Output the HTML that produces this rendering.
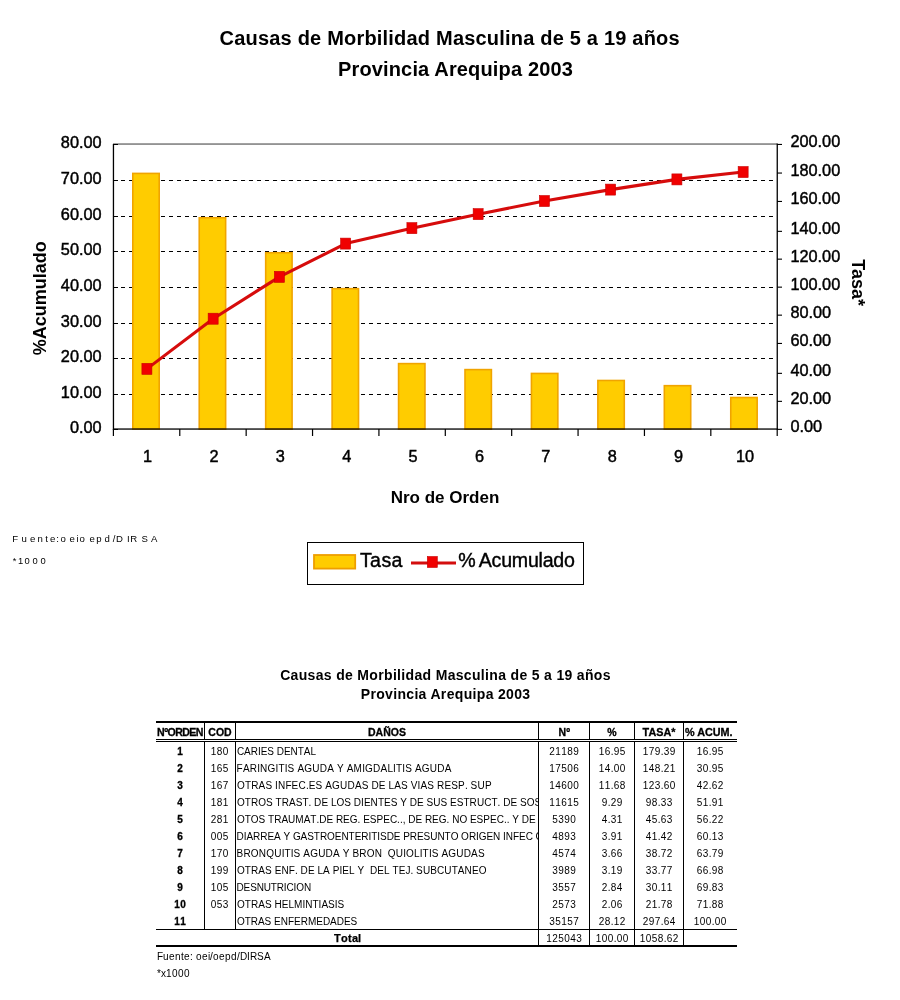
<!DOCTYPE html>
<html><head><meta charset="utf-8"><title>Causas de Morbilidad Masculina de 5 a 19 años</title>
<style>html,body{margin:0;padding:0;background:#fff;width:900px;height:1000px;overflow:hidden}</style>
</head><body>
<svg width="900" height="1000" viewBox="0 0 900 1000" style="position:absolute;left:0;top:0;will-change:transform" font-family='"Liberation Sans", sans-serif'>
<rect x="0" y="0" width="900" height="1000" fill="#fff"/>
<text x="449.7" y="44.6" font-size="20" font-weight="bold" text-anchor="middle" letter-spacing="0.2">Causas de Morbilidad Masculina de 5 a 19 años</text>
<text x="455.5" y="76.2" font-size="20" font-weight="bold" text-anchor="middle" letter-spacing="0.15">Provincia Arequipa 2003</text>
<line x1="113" y1="394.5" x2="777" y2="394.5" stroke="#000" stroke-width="1" stroke-dasharray="4 4" shape-rendering="crispEdges"/>
<line x1="113" y1="358.5" x2="777" y2="358.5" stroke="#000" stroke-width="1" stroke-dasharray="4 4" shape-rendering="crispEdges"/>
<line x1="113" y1="323.5" x2="777" y2="323.5" stroke="#000" stroke-width="1" stroke-dasharray="4 4" shape-rendering="crispEdges"/>
<line x1="113" y1="287.5" x2="777" y2="287.5" stroke="#000" stroke-width="1" stroke-dasharray="4 4" shape-rendering="crispEdges"/>
<line x1="113" y1="251.5" x2="777" y2="251.5" stroke="#000" stroke-width="1" stroke-dasharray="4 4" shape-rendering="crispEdges"/>
<line x1="113" y1="216.5" x2="777" y2="216.5" stroke="#000" stroke-width="1" stroke-dasharray="4 4" shape-rendering="crispEdges"/>
<line x1="113" y1="180.5" x2="777" y2="180.5" stroke="#000" stroke-width="1" stroke-dasharray="4 4" shape-rendering="crispEdges"/>
<rect x="113" y="143.4" width="664" height="1.3" fill="#666"/>
<rect x="132.80" y="173.41" width="26.4" height="255.59" fill="#FFCC00" stroke="#F0A400" stroke-width="1.6"/>
<rect x="199.24" y="217.75" width="26.4" height="211.25" fill="#FFCC00" stroke="#F0A400" stroke-width="1.6"/>
<rect x="265.68" y="252.74" width="26.4" height="176.26" fill="#FFCC00" stroke="#F0A400" stroke-width="1.6"/>
<rect x="332.12" y="288.67" width="26.4" height="140.33" fill="#FFCC00" stroke="#F0A400" stroke-width="1.6"/>
<rect x="398.56" y="363.61" width="26.4" height="65.39" fill="#FFCC00" stroke="#F0A400" stroke-width="1.6"/>
<rect x="465.00" y="369.60" width="26.4" height="59.40" fill="#FFCC00" stroke="#F0A400" stroke-width="1.6"/>
<rect x="531.44" y="373.44" width="26.4" height="55.56" fill="#FFCC00" stroke="#F0A400" stroke-width="1.6"/>
<rect x="597.88" y="380.48" width="26.4" height="48.52" fill="#FFCC00" stroke="#F0A400" stroke-width="1.6"/>
<rect x="664.32" y="385.68" width="26.4" height="43.32" fill="#FFCC00" stroke="#F0A400" stroke-width="1.6"/>
<rect x="730.76" y="397.53" width="26.4" height="31.47" fill="#FFCC00" stroke="#F0A400" stroke-width="1.6"/>
<rect x="112.8" y="144" width="1.3" height="286" fill="#000"/>
<rect x="113" y="428.4" width="665" height="1.3" fill="#000"/>
<rect x="776.6" y="143.5" width="1.3" height="286" fill="#000"/>
<rect x="113" y="429" width="5" height="1" fill="#000"/>
<rect x="113" y="394" width="5" height="1" fill="#000"/>
<rect x="113" y="358" width="5" height="1" fill="#000"/>
<rect x="113" y="323" width="5" height="1" fill="#000"/>
<rect x="113" y="287" width="5" height="1" fill="#000"/>
<rect x="113" y="251" width="5" height="1" fill="#000"/>
<rect x="113" y="216" width="5" height="1" fill="#000"/>
<rect x="113" y="180" width="5" height="1" fill="#000"/>
<rect x="113" y="144" width="5" height="1" fill="#000"/>
<rect x="777" y="428.80" width="5" height="1.1" fill="#000"/>
<rect x="777" y="400.80" width="5" height="1.1" fill="#000"/>
<rect x="777" y="372.80" width="5" height="1.1" fill="#000"/>
<rect x="777" y="342.90" width="5" height="1.1" fill="#000"/>
<rect x="777" y="314.60" width="5" height="1.1" fill="#000"/>
<rect x="777" y="286.60" width="5" height="1.1" fill="#000"/>
<rect x="777" y="258.60" width="5" height="1.1" fill="#000"/>
<rect x="777" y="230.80" width="5" height="1.1" fill="#000"/>
<rect x="777" y="200.90" width="5" height="1.1" fill="#000"/>
<rect x="777" y="172.50" width="5" height="1.1" fill="#000"/>
<rect x="777" y="143.90" width="5" height="1.1" fill="#000"/>
<rect x="112.80" y="429" width="1.2" height="7" fill="#000"/>
<rect x="179.18" y="429" width="1.2" height="7" fill="#000"/>
<rect x="245.56" y="429" width="1.2" height="7" fill="#000"/>
<rect x="311.94" y="429" width="1.2" height="7" fill="#000"/>
<rect x="378.32" y="429" width="1.2" height="7" fill="#000"/>
<rect x="444.70" y="429" width="1.2" height="7" fill="#000"/>
<rect x="511.08" y="429" width="1.2" height="7" fill="#000"/>
<rect x="577.46" y="429" width="1.2" height="7" fill="#000"/>
<rect x="643.84" y="429" width="1.2" height="7" fill="#000"/>
<rect x="710.22" y="429" width="1.2" height="7" fill="#000"/>
<rect x="776.60" y="429" width="1.2" height="7" fill="#000"/>
<polyline points="146.90,368.87 213.15,318.71 279.40,276.89 345.65,243.61 411.90,228.16 478.15,214.15 544.40,201.04 610.65,189.61 676.90,179.40 743.15,172.05" fill="none" stroke="#D60C0C" stroke-width="3.1" stroke-linejoin="round"/>
<rect x="141.90" y="363.37" width="10" height="11" fill="#F00000" stroke="#C80000" stroke-width="0.6"/>
<rect x="208.15" y="313.21" width="10" height="11" fill="#F00000" stroke="#C80000" stroke-width="0.6"/>
<rect x="274.40" y="271.39" width="10" height="11" fill="#F00000" stroke="#C80000" stroke-width="0.6"/>
<rect x="340.65" y="238.11" width="10" height="11" fill="#F00000" stroke="#C80000" stroke-width="0.6"/>
<rect x="406.90" y="222.66" width="10" height="11" fill="#F00000" stroke="#C80000" stroke-width="0.6"/>
<rect x="473.15" y="208.65" width="10" height="11" fill="#F00000" stroke="#C80000" stroke-width="0.6"/>
<rect x="539.40" y="195.54" width="10" height="11" fill="#F00000" stroke="#C80000" stroke-width="0.6"/>
<rect x="605.65" y="184.11" width="10" height="11" fill="#F00000" stroke="#C80000" stroke-width="0.6"/>
<rect x="671.90" y="173.90" width="10" height="11" fill="#F00000" stroke="#C80000" stroke-width="0.6"/>
<rect x="738.15" y="166.55" width="10" height="11" fill="#F00000" stroke="#C80000" stroke-width="0.6"/>
<text x="101.6" y="432.7" font-size="16.3" stroke="#000" stroke-width="0.45" text-anchor="end">0.00</text>
<text x="101.6" y="397.7" font-size="16.3" stroke="#000" stroke-width="0.45" text-anchor="end">10.00</text>
<text x="101.6" y="361.7" font-size="16.3" stroke="#000" stroke-width="0.45" text-anchor="end">20.00</text>
<text x="101.6" y="326.7" font-size="16.3" stroke="#000" stroke-width="0.45" text-anchor="end">30.00</text>
<text x="101.6" y="290.7" font-size="16.3" stroke="#000" stroke-width="0.45" text-anchor="end">40.00</text>
<text x="101.6" y="254.7" font-size="16.3" stroke="#000" stroke-width="0.45" text-anchor="end">50.00</text>
<text x="101.6" y="219.7" font-size="16.3" stroke="#000" stroke-width="0.45" text-anchor="end">60.00</text>
<text x="101.6" y="183.7" font-size="16.3" stroke="#000" stroke-width="0.45" text-anchor="end">70.00</text>
<text x="101.6" y="147.7" font-size="16.3" stroke="#000" stroke-width="0.45" text-anchor="end">80.00</text>
<text x="790.4" y="432.3" font-size="16.3" stroke="#000" stroke-width="0.45">0.00</text>
<text x="790.4" y="404.3" font-size="16.3" stroke="#000" stroke-width="0.45">20.00</text>
<text x="790.4" y="376.3" font-size="16.3" stroke="#000" stroke-width="0.45">40.00</text>
<text x="790.4" y="346.4" font-size="16.3" stroke="#000" stroke-width="0.45">60.00</text>
<text x="790.4" y="318.1" font-size="16.3" stroke="#000" stroke-width="0.45">80.00</text>
<text x="790.4" y="290.1" font-size="16.3" stroke="#000" stroke-width="0.45">100.00</text>
<text x="790.4" y="262.1" font-size="16.3" stroke="#000" stroke-width="0.45">120.00</text>
<text x="790.4" y="234.3" font-size="16.3" stroke="#000" stroke-width="0.45">140.00</text>
<text x="790.4" y="204.4" font-size="16.3" stroke="#000" stroke-width="0.45">160.00</text>
<text x="790.4" y="176.0" font-size="16.3" stroke="#000" stroke-width="0.45">180.00</text>
<text x="790.4" y="147.4" font-size="16.3" stroke="#000" stroke-width="0.45">200.00</text>
<text x="147.6" y="462.4" font-size="16.3" stroke="#000" stroke-width="0.45" text-anchor="middle">1</text>
<text x="214.0" y="462.4" font-size="16.3" stroke="#000" stroke-width="0.45" text-anchor="middle">2</text>
<text x="280.4" y="462.4" font-size="16.3" stroke="#000" stroke-width="0.45" text-anchor="middle">3</text>
<text x="346.7" y="462.4" font-size="16.3" stroke="#000" stroke-width="0.45" text-anchor="middle">4</text>
<text x="413.1" y="462.4" font-size="16.3" stroke="#000" stroke-width="0.45" text-anchor="middle">5</text>
<text x="479.5" y="462.4" font-size="16.3" stroke="#000" stroke-width="0.45" text-anchor="middle">6</text>
<text x="545.9" y="462.4" font-size="16.3" stroke="#000" stroke-width="0.45" text-anchor="middle">7</text>
<text x="612.3" y="462.4" font-size="16.3" stroke="#000" stroke-width="0.45" text-anchor="middle">8</text>
<text x="678.6" y="462.4" font-size="16.3" stroke="#000" stroke-width="0.45" text-anchor="middle">9</text>
<text x="745.0" y="462.4" font-size="16.3" stroke="#000" stroke-width="0.45" text-anchor="middle">10</text>
<text transform="translate(45.6,298.3) rotate(-90)" font-size="18" font-weight="bold" text-anchor="middle">%Acumulado</text>
<text transform="translate(852.2,282.6) rotate(90)" font-size="18" font-weight="bold" text-anchor="middle">Tasa*</text>
<text x="445" y="503" font-size="17" font-weight="bold" text-anchor="middle">Nro de Orden</text>
<text x="12.2 21.5 29.9 37.4 45.2 49.9 56.3 60.4 69.5 76.6 79.6 86.0 89.6 96.2 104.6 112.8 116.1 126.9 130.2 141.5 151.0" y="542" font-size="9.6" xml:space="preserve">Fuente:oeio epd/DIRSA</text>
<text x="12.8 18.1 24.5 32.6 40.6" y="563.6" font-size="9.4">*1000</text>
<rect x="307.5" y="542.5" width="276" height="42" fill="#fff" stroke="#000" stroke-width="1"/>
<rect x="314" y="555" width="41.2" height="13.6" fill="#FFCC00" stroke="#EE9E00" stroke-width="1.8"/>
<text x="359.9" y="567" font-size="19.6" stroke="#000" stroke-width="0.4" letter-spacing="0.4">Tasa</text>
<line x1="411" y1="563" x2="456" y2="563" stroke="#D30E0E" stroke-width="3"/>
<rect x="427.3" y="556.5" width="10" height="11" fill="#F00000" stroke="#C80000" stroke-width="0.6"/>
<text x="458.3" y="566.8" font-size="19.6" stroke="#000" stroke-width="0.4">%</text>
<text x="478.8" y="566.8" font-size="19.6" stroke="#000" stroke-width="0.4" letter-spacing="-0.25">Acumulado</text>
<text x="445.5" y="679.8" font-size="14" font-weight="bold" text-anchor="middle" letter-spacing="0.33">Causas de Morbilidad Masculina de 5 a 19 años</text>
<text x="445.6" y="699.2" font-size="14" font-weight="bold" text-anchor="middle" letter-spacing="0.33">Provincia Arequipa 2003</text>
<rect x="156" y="721" width="581" height="2" fill="#000"/>
<rect x="156" y="739" width="581" height="1" fill="#000"/>
<rect x="156" y="741" width="581" height="1" fill="#000"/>
<rect x="156" y="929" width="581" height="1" fill="#000"/>
<rect x="156" y="945" width="581" height="2" fill="#000"/>
<rect x="204" y="723" width="1" height="16" fill="#000"/>
<rect x="204" y="742" width="1" height="187" fill="#000"/>
<rect x="235" y="723" width="1" height="16" fill="#000"/>
<rect x="235" y="742" width="1" height="187" fill="#000"/>
<rect x="538" y="723" width="1" height="16" fill="#000"/>
<rect x="538" y="742" width="1" height="187" fill="#000"/>
<rect x="589" y="723" width="1" height="16" fill="#000"/>
<rect x="589" y="742" width="1" height="187" fill="#000"/>
<rect x="634" y="723" width="1" height="16" fill="#000"/>
<rect x="634" y="742" width="1" height="187" fill="#000"/>
<rect x="683" y="723" width="1" height="16" fill="#000"/>
<rect x="683" y="742" width="1" height="187" fill="#000"/>
<rect x="538" y="930" width="1" height="15" fill="#000"/>
<rect x="589" y="930" width="1" height="15" fill="#000"/>
<rect x="634" y="930" width="1" height="15" fill="#000"/>
<rect x="683" y="930" width="1" height="15" fill="#000"/>
<text x="180" y="735.7" font-size="10.6" font-weight="bold" stroke="#000" stroke-width="0.3" text-anchor="middle" letter-spacing="-0.55">NºORDEN</text>
<text x="220" y="735.7" font-size="10.5" font-weight="bold" stroke="#000" stroke-width="0.3" text-anchor="middle">COD</text>
<text x="387" y="735.7" font-size="10.5" font-weight="bold" stroke="#000" stroke-width="0.3" text-anchor="middle">DAÑOS</text>
<text x="564.3" y="735.7" font-size="10.5" font-weight="bold" stroke="#000" stroke-width="0.3" text-anchor="middle">Nº</text>
<text x="612" y="735.7" font-size="10.5" font-weight="bold" stroke="#000" stroke-width="0.3" text-anchor="middle">%</text>
<text x="659" y="735.7" font-size="10.8" font-weight="bold" stroke="#000" stroke-width="0.3" text-anchor="middle">TASA*</text>
<text x="685" y="735.7" font-size="10.8" font-weight="bold" stroke="#000" stroke-width="0.3">% ACUM.</text>
<defs><clipPath id="dc"><rect x="236" y="742" width="303" height="187"/></clipPath></defs>
<text x="177.2" y="755.0" font-size="10" font-weight="bold" xml:space="preserve" stroke="#000" stroke-width="0.3">1</text>
<text x="210.7 216.7 222.7" y="755.0" font-size="10" xml:space="preserve" >180</text>
<text x="236.9 244.1 250.7 257.9 260.7 267.3 274.0 276.7 283.9 290.6 297.7 303.8 310.5" y="755.0" font-size="10" xml:space="preserve" clip-path="url(#dc)">CARIES DENTAL</text>
<text x="549.3 555.3 561.3 567.3 573.3" y="755.0" font-size="10" xml:space="preserve" >21189</text>
<text x="598.7 604.7 610.7 613.7 619.7" y="755.0" font-size="10" xml:space="preserve" >16.95</text>
<text x="642.7 648.7 654.7 660.7 663.7 669.7" y="755.0" font-size="10" xml:space="preserve" >179.39</text>
<text x="696.7 702.7 708.7 711.7 717.7" y="755.0" font-size="10" xml:space="preserve" >16.95</text>
<text x="177.2" y="772.0" font-size="10" font-weight="bold" xml:space="preserve" stroke="#000" stroke-width="0.3">2</text>
<text x="210.7 216.7 222.7" y="772.0" font-size="10" xml:space="preserve" >165</text>
<text x="236.6 242.9 249.8 257.2 260.1 267.5 275.6 278.4 284.7 287.6 294.5 297.4 304.2 312.3 319.7 327.2 334.1 336.9 343.8 346.7 353.6 362.2 365.0 373.1 380.5 387.4 393.1 396.0 402.3 405.2 412.1 414.9 421.8 429.8 437.3 444.7" y="772.0" font-size="10" xml:space="preserve" clip-path="url(#dc)">FARINGITIS AGUDA Y AMIGDALITIS AGUDA</text>
<text x="549.3 555.3 561.3 567.3 573.3" y="772.0" font-size="10" xml:space="preserve" >17506</text>
<text x="598.7 604.7 610.7 613.7 619.7" y="772.0" font-size="10" xml:space="preserve" >14.00</text>
<text x="642.7 648.7 654.7 660.7 663.7 669.7" y="772.0" font-size="10" xml:space="preserve" >148.21</text>
<text x="696.7 702.7 708.7 711.7 717.7" y="772.0" font-size="10" xml:space="preserve" >30.95</text>
<text x="177.2" y="789.0" font-size="10" font-weight="bold" xml:space="preserve" stroke="#000" stroke-width="0.3">3</text>
<text x="210.7 216.7 222.7" y="789.0" font-size="10" xml:space="preserve" >167</text>
<text x="236.9 244.9 251.2 258.6 265.4 272.3 275.1 278.0 285.4 291.6 298.5 305.9 308.7 315.6 322.4 325.3 332.1 340.1 347.5 354.9 361.7 368.6 371.4 378.8 385.7 388.5 394.2 401.1 407.9 410.8 417.6 420.4 427.3 434.1 437.0 444.4 451.2 458.1 464.9 467.8 470.6 477.5 484.9" y="789.0" font-size="10" xml:space="preserve" clip-path="url(#dc)">OTRAS INFEC.ES AGUDAS DE LAS VIAS RESP. SUP</text>
<text x="549.3 555.3 561.3 567.3 573.3" y="789.0" font-size="10" xml:space="preserve" >14600</text>
<text x="598.7 604.7 610.7 613.7 619.7" y="789.0" font-size="10" xml:space="preserve" >11.68</text>
<text x="642.7 648.7 654.7 660.7 663.7 669.7" y="789.0" font-size="10" xml:space="preserve" >123.60</text>
<text x="696.7 702.7 708.7 711.7 717.7" y="789.0" font-size="10" xml:space="preserve" >42.62</text>
<text x="177.2" y="806.0" font-size="10" font-weight="bold" xml:space="preserve" stroke="#000" stroke-width="0.3">4</text>
<text x="210.7 216.7 222.7" y="806.0" font-size="10" xml:space="preserve" >181</text>
<text x="236.9 244.8 250.9 258.2 266.0 272.7 275.5 281.7 288.9 295.7 302.4 308.5 311.3 314.1 321.4 328.1 330.9 336.5 344.3 351.0 353.8 361.1 363.9 370.6 377.9 384.0 390.7 397.5 400.3 407.0 409.8 417.0 423.8 426.6 433.3 440.5 447.3 450.0 456.8 463.5 469.6 476.9 484.2 491.4 497.6 500.4 503.2 510.4 517.2 520.0 526.7 534.5 541.2 547.4 554.1" y="806.0" font-size="10" xml:space="preserve" clip-path="url(#dc)">OTROS TRAST. DE LOS DIENTES Y DE SUS ESTRUCT. DE SOSTEN</text>
<text x="549.3 555.3 561.3 567.3 573.3" y="806.0" font-size="10" xml:space="preserve" >11615</text>
<text x="601.7 607.7 610.7 616.7" y="806.0" font-size="10" xml:space="preserve" >9.29</text>
<text x="645.7 651.7 657.7 660.7 666.7" y="806.0" font-size="10" xml:space="preserve" >98.33</text>
<text x="696.7 702.7 708.7 711.7 717.7" y="806.0" font-size="10" xml:space="preserve" >51.91</text>
<text x="177.2" y="823.0" font-size="10" font-weight="bold" xml:space="preserve" stroke="#000" stroke-width="0.3">5</text>
<text x="210.7 216.7 222.7" y="823.0" font-size="10" xml:space="preserve" >281</text>
<text x="236.9 244.7 250.8 258.6 265.3 268.1 274.2 281.4 288.1 295.3 303.7 310.3 316.4 319.2 326.5 333.1 335.9 343.1 349.8 357.6 360.4 363.2 369.8 376.5 383.2 389.9 397.1 399.9 402.7 405.4 408.2 415.4 422.1 424.9 432.1 438.8 446.6 449.4 452.2 459.4 467.2 469.9 476.6 483.3 490.0 496.7 503.9 506.7 509.4 512.2 518.9 521.7 528.9 535.6 538.4 546.7 553.9 559.5" y="823.0" font-size="10" xml:space="preserve" clip-path="url(#dc)">OTOS TRAUMAT.DE REG. ESPEC.., DE REG. NO ESPEC.. Y DE MULT</text>
<text x="552.3 558.3 564.3 570.3" y="823.0" font-size="10" xml:space="preserve" >5390</text>
<text x="601.7 607.7 610.7 616.7" y="823.0" font-size="10" xml:space="preserve" >4.31</text>
<text x="645.7 651.7 657.7 660.7 666.7" y="823.0" font-size="10" xml:space="preserve" >45.63</text>
<text x="696.7 702.7 708.7 711.7 717.7" y="823.0" font-size="10" xml:space="preserve" >56.22</text>
<text x="177.2" y="840.0" font-size="10" font-weight="bold" xml:space="preserve" stroke="#000" stroke-width="0.3">6</text>
<text x="210.7 216.7 222.7" y="840.0" font-size="10" xml:space="preserve" >005</text>
<text x="236.6 243.8 246.5 253.1 260.3 267.5 274.1 280.7 283.5 290.1 292.9 300.6 307.2 313.8 319.9 327.1 334.8 341.4 348.6 354.7 361.3 368.5 371.2 377.3 380.0 386.7 393.8 400.5 403.2 409.8 417.0 423.6 430.3 437.4 444.6 450.7 458.4 461.1 468.9 476.0 478.8 486.5 493.1 500.3 503.1 505.8 513.0 519.1 525.7 532.9 535.6 542.8 545.6 553.3 559.9" y="840.0" font-size="10" xml:space="preserve" clip-path="url(#dc)">DIARREA Y GASTROENTERITISDE PRESUNTO ORIGEN INFEC CIOSO</text>
<text x="552.3 558.3 564.3 570.3" y="840.0" font-size="10" xml:space="preserve" >4893</text>
<text x="601.7 607.7 610.7 616.7" y="840.0" font-size="10" xml:space="preserve" >3.91</text>
<text x="645.7 651.7 657.7 660.7 666.7" y="840.0" font-size="10" xml:space="preserve" >41.42</text>
<text x="696.7 702.7 708.7 711.7 717.7" y="840.0" font-size="10" xml:space="preserve" >60.13</text>
<text x="177.2" y="857.0" font-size="10" font-weight="bold" xml:space="preserve" stroke="#000" stroke-width="0.3">7</text>
<text x="210.7 216.7 222.7" y="857.0" font-size="10" xml:space="preserve" >170</text>
<text x="236.6 243.4 250.8 258.8 266.3 274.2 281.7 284.5 290.8 293.6 300.5 303.3 310.2 318.2 325.6 333.0 339.9 342.7 349.6 352.4 359.3 366.7 374.7 382.1 385.0 387.8 395.8 403.2 406.1 414.1 419.8 422.6 428.9 431.8 438.6 441.5 448.3 456.3 463.7 471.1 478.0" y="857.0" font-size="10" xml:space="preserve" clip-path="url(#dc)">BRONQUITIS AGUDA Y BRON  QUIOLITIS AGUDAS</text>
<text x="552.3 558.3 564.3 570.3" y="857.0" font-size="10" xml:space="preserve" >4574</text>
<text x="601.7 607.7 610.7 616.7" y="857.0" font-size="10" xml:space="preserve" >3.66</text>
<text x="645.7 651.7 657.7 660.7 666.7" y="857.0" font-size="10" xml:space="preserve" >38.72</text>
<text x="696.7 702.7 708.7 711.7 717.7" y="857.0" font-size="10" xml:space="preserve" >63.79</text>
<text x="177.2" y="874.0" font-size="10" font-weight="bold" xml:space="preserve" stroke="#000" stroke-width="0.3">8</text>
<text x="210.7 216.7 222.7" y="874.0" font-size="10" xml:space="preserve" >199</text>
<text x="236.9 244.8 251.0 258.3 265.1 271.9 274.7 281.4 288.8 295.0 297.8 300.6 307.9 314.7 317.5 323.1 329.9 332.7 339.5 342.3 349.1 354.7 357.5 364.3 367.1 369.9 377.3 384.0 389.7 392.5 398.7 405.4 410.5 413.3 416.1 422.9 430.2 437.0 444.3 451.7 457.8 464.6 471.9 478.7" y="874.0" font-size="10" xml:space="preserve" clip-path="url(#dc)">OTRAS ENF. DE LA PIEL Y  DEL TEJ. SUBCUTANEO</text>
<text x="552.3 558.3 564.3 570.3" y="874.0" font-size="10" xml:space="preserve" >3989</text>
<text x="601.7 607.7 610.7 616.7" y="874.0" font-size="10" xml:space="preserve" >3.19</text>
<text x="645.7 651.7 657.7 660.7 666.7" y="874.0" font-size="10" xml:space="preserve" >33.77</text>
<text x="696.7 702.7 708.7 711.7 717.7" y="874.0" font-size="10" xml:space="preserve" >66.98</text>
<text x="177.2" y="891.0" font-size="10" font-weight="bold" xml:space="preserve" stroke="#000" stroke-width="0.3">9</text>
<text x="210.7 216.7 222.7" y="891.0" font-size="10" xml:space="preserve" >105</text>
<text x="236.6 243.6 250.2 256.7 263.7 270.8 276.8 283.8 286.5 293.6 296.3 303.9" y="891.0" font-size="10" xml:space="preserve" clip-path="url(#dc)">DESNUTRICION</text>
<text x="552.3 558.3 564.3 570.3" y="891.0" font-size="10" xml:space="preserve" >3557</text>
<text x="601.7 607.7 610.7 616.7" y="891.0" font-size="10" xml:space="preserve" >2.84</text>
<text x="645.7 651.7 657.7 660.7 666.7" y="891.0" font-size="10" xml:space="preserve" >30.11</text>
<text x="696.7 702.7 708.7 711.7 717.7" y="891.0" font-size="10" xml:space="preserve" >69.83</text>
<text x="174.2 180.2" y="908.0" font-size="10" font-weight="bold" xml:space="preserve" stroke="#000" stroke-width="0.3">10</text>
<text x="210.7 216.7 222.7" y="908.0" font-size="10" xml:space="preserve" >053</text>
<text x="236.9 244.8 250.9 258.2 264.9 271.6 274.4 281.7 288.4 294.0 302.4 305.2 312.4 318.6 321.4 328.1 334.8 337.6" y="908.0" font-size="10" xml:space="preserve" clip-path="url(#dc)">OTRAS HELMINTIASIS</text>
<text x="552.3 558.3 564.3 570.3" y="908.0" font-size="10" xml:space="preserve" >2573</text>
<text x="601.7 607.7 610.7 616.7" y="908.0" font-size="10" xml:space="preserve" >2.06</text>
<text x="645.7 651.7 657.7 660.7 666.7" y="908.0" font-size="10" xml:space="preserve" >21.78</text>
<text x="696.7 702.7 708.7 711.7 717.7" y="908.0" font-size="10" xml:space="preserve" >71.88</text>
<text x="174.2 180.2" y="925.0" font-size="10" font-weight="bold" xml:space="preserve" stroke="#000" stroke-width="0.3">11</text>
<text x="236.9 244.7 250.8 258.0 264.6 271.3 274.1 280.7 287.9 294.0 300.7 307.9 316.2 322.9 330.1 336.7 343.9 350.6" y="925.0" font-size="10" xml:space="preserve" clip-path="url(#dc)">OTRAS ENFERMEDADES</text>
<text x="549.3 555.3 561.3 567.3 573.3" y="925.0" font-size="10" xml:space="preserve" >35157</text>
<text x="598.7 604.7 610.7 613.7 619.7" y="925.0" font-size="10" xml:space="preserve" >28.12</text>
<text x="642.7 648.7 654.7 660.7 663.7 669.7" y="925.0" font-size="10" xml:space="preserve" >297.64</text>
<text x="693.7 699.7 705.7 711.7 714.7 720.7" y="925.0" font-size="10" xml:space="preserve" >100.00</text>
<text x="334 341 348 352 358" y="941.7" font-size="11" font-weight="bold" xml:space="preserve" stroke="#000" stroke-width="0.25">Total</text>
<text x="546.3 552.3 558.3 564.3 570.3 576.3" y="941.7" font-size="10" xml:space="preserve" >125043</text>
<text x="595.7 601.7 607.7 613.7 616.7 622.7" y="941.7" font-size="10" xml:space="preserve" >100.00</text>
<text x="639.7 645.7 651.7 657.7 663.7 666.7 672.7" y="941.7" font-size="10" xml:space="preserve" >1058.62</text>
<text x="157 163 169 175 181 184 190 193 196 202 208 210 213 219 225 231 237 240 247 250 257 264" y="960" font-size="10" xml:space="preserve" >Fuente: oei/oepd/DIRSA</text>
<text x="157 161 166 172 178 184" y="976.5" font-size="10" xml:space="preserve" >*x1000</text>
</svg>
</body></html>
